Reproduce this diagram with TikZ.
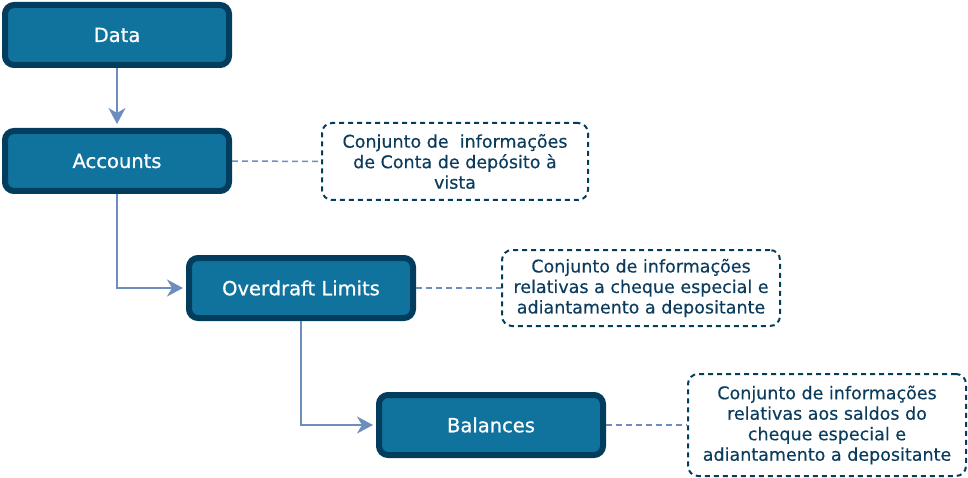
\documentclass[tikz,border=0pt]{standalone}
\usepackage{fontspec}
\setmainfont{DejaVu Sans}
\newfontfamily\boxfont[FakeBold=0.7]{DejaVu Sans}
\newfontfamily\notefont[FakeBold=0.3]{DejaVu Sans}
\usetikzlibrary{arrows.meta}
\definecolor{boxfill}{HTML}{10739E}
\definecolor{boxline}{HTML}{023D5E}
\definecolor{conn}{HTML}{6C8EBF}
\definecolor{notetext}{HTML}{0B3C5D}
\tikzset{
  mainbox/.style={draw=boxline, fill=boxfill, line width=6pt, rounded corners=9pt,
    minimum width=224pt, minimum height=60pt, text=white, inner sep=0pt,
    font=\boxfont\fontsize{19.5}{22}\selectfont},
  notebox/.style={draw=boxline, line width=2pt, dash pattern=on 5pt off 4pt,
    rounded corners=10pt, text=notetext, align=center, inner sep=0pt,
    font=\notefont\fontsize{17.5}{20.5}\selectfont},
  flow/.style={draw=conn, line width=2pt, -{Stealth[length=16pt,width=17pt,inset=5pt]}},
  link/.style={draw=conn, line width=1.5pt, dash pattern=on 6pt off 4pt}
}
\begin{document}
\begin{tikzpicture}[x=1pt,y=-1pt]
\useasboundingbox (0,0) rectangle (968,478);
\node[mainbox] (data) at (117,35) {Data};
\node[mainbox] (acc) at (117,161) {Accounts};
\node[mainbox] (over) at (301,288) {Overdraft Limits};
\node[mainbox] (bal) at (491,425) {Balances};
\node[notebox, minimum width=266pt, minimum height=77pt] (n1) at (455,161.5)
  {Conjunto de\ \ informações\\de Conta de depósito à\\vista};
\node[notebox, minimum width=278pt, minimum height=76pt] (n2) at (641,288)
  {Conjunto de informações\\relativas a cheque especial e\\adiantamento a depositante};
\node[notebox, minimum width=278pt, minimum height=102pt] (n3) at (827,425)
  {Conjunto de informações\\relativas aos saldos do\\cheque especial e\\adiantamento a depositante};
\draw[flow, shorten >=4pt] (data.south) -- (acc.north);
\draw[flow, shorten >=3pt] (acc.south) |- (over.west);
\draw[flow, shorten >=3pt] (over.south) |- (bal.west);
\draw[link] (acc.east) -- (n1.west);
\draw[link] (over.east) -- (n2.west);
\draw[link] (bal.east) -- (n3.west);
\end{tikzpicture}
\end{document}
